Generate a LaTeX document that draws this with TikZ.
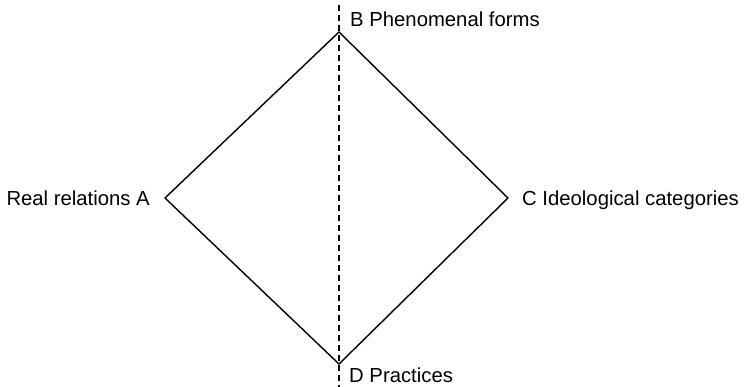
\documentclass[tikz,border=0pt]{standalone}
\usepackage{fontspec}
\setmainfont{Liberation Sans}
\begin{document}
\begin{tikzpicture}[x=1pt,y=-1pt,
  edge/.style={line width=1.4pt, line join=miter},
  axis/.style={line width=1.3pt, dash pattern=on 6pt off 4pt},
  lbl/.style={inner sep=0pt, font=\fontsize{20.3}{23}\selectfont}]
\useasboundingbox (0,0) rectangle (748,387);
\coordinate (A) at (165,198);
\coordinate (B) at (339,32);
\coordinate (C) at (508,198);
\coordinate (D) at (339,364);
\coordinate (top) at (339,5);
\coordinate (bot) at (339,387);
\draw[axis] (top) -- (bot);
\draw[edge] (A) -- (B) -- (C) -- (D) -- cycle;
\node[lbl, anchor=base west] (lb) at (350,27) {B Phenomenal forms};
\node[lbl, anchor=base east] (la) at (150,206) {Real relations A};
\node[lbl, anchor=base west] (lc) at (522,206) {C Ideological categories};
\node[lbl, anchor=base west] (ld) at (349,383) {D Practices};
\end{tikzpicture}
\end{document}
